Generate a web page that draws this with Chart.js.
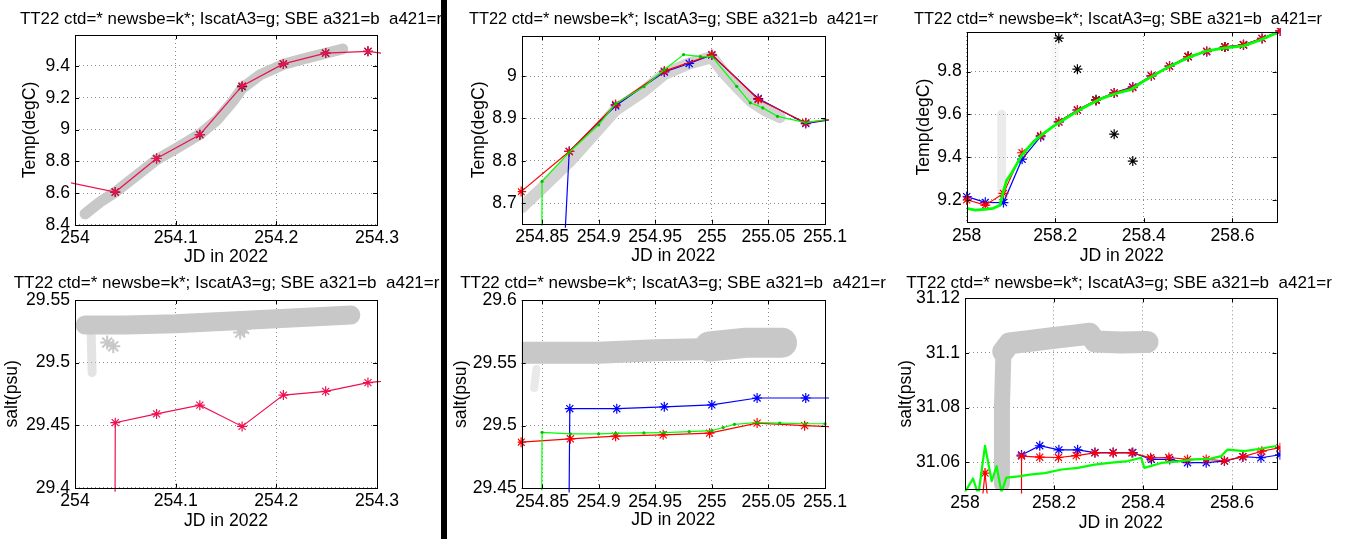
<!DOCTYPE html>
<html><head><meta charset="utf-8">
<script src="https://cdn.jsdelivr.net/npm/chart.js@4"></script>
<style>
html,body{margin:0;padding:0;background:#fff;}
body{width:1345px;height:539px;overflow:hidden;position:relative;}
.wrap{position:absolute;}
#sep{position:absolute;left:441px;top:0;width:6px;height:539px;background:#000;}
</style></head><body>
<div id="sep"></div>
<script>
// ---------- text ----------
const TITLE_TEXT = 'TT22 ctd=* newsbe=k*; IscatA3=g; SBE a321=b  a421=r';
const X_LABEL = 'JD in 2022';
const Y_LABEL_TEMP = 'Temp(degC)';
const Y_LABEL_SALT = 'salt(psu)';

// ---------- tick labels ----------
const xTicksA = [254, 254.1, 254.2, 254.3];
const xTicksB = [254.85, 254.9, 254.95, 255, 255.05, 255.1];
const xTicksC = [258, 258.2, 258.4, 258.6];
const yTicksT1 = [8.4, 8.6, 8.8, 9, 9.2, 9.4];
const yTicksT2 = [8.7, 8.8, 8.9, 9];
const yTicksT3 = [9.2, 9.4, 9.6, 9.8];
const yTicksS1 = [29.4, 29.45, 29.5, 29.55];
const yTicksS2 = [29.45, 29.5, 29.55, 29.6];
const yTicksS3 = [31.06, 31.08, 31.1, 31.12];

// ---------- Panel 1: temperature, JD 254.0-254.3 ----------
const t1CtdX = [254.010, 254.025, 254.040, 254.060, 254.081, 254.100, 254.124, 254.141, 254.157, 254.166, 254.184, 254.207, 254.230, 254.249, 254.266];
const t1CtdY = [8.470, 8.545, 8.607, 8.705, 8.810, 8.880, 8.970, 9.060, 9.180, 9.260, 9.345, 9.410, 9.450, 9.480, 9.507];
const t1RedX = [253.958, 254.040, 254.081, 254.124, 254.166, 254.207, 254.249, 254.291, 254.333];
const t1RedY = [8.715, 8.607, 8.818, 8.968, 9.275, 9.413, 9.481, 9.492, 9.455];
const t1BlkX = [254.040, 254.081, 254.124, 254.166, 254.207, 254.249, 254.291];
const t1BlkY = [8.607, 8.818, 8.968, 9.270, 9.413, 9.481, 9.492];

// ---------- Panel 2: temperature, JD 254.83-255.1 ----------
const t2CtdX = [254.832, 254.850, 254.875, 254.900, 254.915, 254.940, 254.958, 254.980, 255.000, 255.010, 255.022, 255.035, 255.048, 255.060];
const t2CtdY = [8.690, 8.735, 8.800, 8.875, 8.920, 8.965, 9.005, 9.030, 9.045, 9.010, 8.975, 8.940, 8.918, 8.903];
const t2RedX = [254.8315, 254.874, 254.915, 254.958, 255.000, 255.041, 255.083, 255.125];
const t2RedY = [8.727, 8.822, 8.933, 9.012, 9.051, 8.945, 8.890, 8.905];
const t2BlueX = [254.866, 254.874, 254.915, 254.958, 254.980, 255.000, 255.041, 255.083, 255.125];
const t2BlueY = [8.400, 8.822, 8.930, 9.010, 9.030, 9.050, 8.947, 8.888, 8.905];
const t2GrnX = [254.8495, 254.850, 254.874, 254.900, 254.915, 254.940, 254.958, 254.975, 254.990, 255.000, 255.022, 255.034, 255.045, 255.058, 255.083, 255.100];
const t2GrnY = [8.400, 8.751, 8.820, 8.885, 8.935, 8.975, 9.015, 9.051, 9.046, 9.047, 8.976, 8.937, 8.925, 8.905, 8.890, 8.897];

// ---------- Panel 3: temperature, JD 258.0-258.7 ----------
const t3CtdAX = [258.079, 258.079];
const t3CtdAY = [9.20, 9.60];
const t3CtdBX = [258.200, 258.200];
const t3CtdBY = [9.45, 9.98];
const t3RedX = [258.000, 258.042, 258.083, 258.125, 258.167, 258.208, 258.250, 258.292, 258.333, 258.375, 258.417, 258.458, 258.500, 258.542, 258.583, 258.625, 258.667, 258.708];
const t3RedY = [9.200, 9.175, 9.230, 9.420, 9.500, 9.565, 9.620, 9.665, 9.700, 9.725, 9.780, 9.825, 9.870, 9.895, 9.915, 9.925, 9.955, 9.990];
const t3BlueX = [258.000, 258.042, 258.083, 258.125, 258.167, 258.208, 258.250, 258.292, 258.333, 258.375, 258.417, 258.458, 258.500, 258.542, 258.583, 258.625, 258.667, 258.708];
const t3BlueY = [9.215, 9.188, 9.187, 9.390, 9.495, 9.565, 9.620, 9.665, 9.700, 9.728, 9.780, 9.825, 9.870, 9.893, 9.915, 9.925, 9.955, 9.990];
const t3GrnX = [258.000, 258.020, 258.045, 258.060, 258.075, 258.083, 258.090, 258.100, 258.125, 258.150, 258.167, 258.200, 258.250, 258.300, 258.333, 258.370, 258.400, 258.450, 258.500, 258.540, 258.580, 258.625, 258.660, 258.700];
const t3GrnY = [9.160, 9.152, 9.156, 9.160, 9.175, 9.240, 9.290, 9.320, 9.410, 9.470, 9.500, 9.550, 9.615, 9.670, 9.695, 9.715, 9.755, 9.815, 9.865, 9.895, 9.910, 9.920, 9.945, 9.980];
const t3BlkX = [258.208, 258.250, 258.292, 258.333, 258.375, 258.500, 258.583, 258.625];
const t3BlkY = [9.956, 9.811, 9.668, 9.507, 9.381, 9.870, 9.915, 9.925];

// ---------- Panel 4: salinity, JD 254.0-254.3 ----------
const s1CtdX = [254.010, 254.050, 254.100, 254.150, 254.200, 254.250, 254.274];
const s1CtdY = [29.530, 29.530, 29.531, 29.533, 29.535, 29.537, 29.538];
const s1TailX = [254.016, 254.017];
const s1TailY = [29.525, 29.492];
const s1ClusterX = [254.032, 254.038, 254.164, 254.168];
const s1ClusterY = [29.516, 29.513, 29.524, 29.527];
const s1RedX = [254.0395, 254.040, 254.081, 254.124, 254.166, 254.207, 254.249, 254.291, 254.333];
const s1RedY = [29.300, 29.452, 29.459, 29.466, 29.449, 29.474, 29.477, 29.484, 29.487];

// ---------- Panel 5: salinity, JD 254.83-255.1 ----------
const s2CtdX = [254.832, 254.900, 254.950, 255.000];
const s2CtdY = [29.558, 29.558, 29.560, 29.561];
const s2CtdEndX = [254.998, 255.030, 255.062];
const s2CtdEndY = [29.563, 29.566, 29.566];
const s2StubX = [254.843, 254.845];
const s2StubY = [29.530, 29.545];
const s2BlueX = [254.8735, 254.8745, 254.916, 254.958, 255.000, 255.040, 255.083, 255.125];
const s2BlueY = [29.400, 29.5135, 29.5135, 29.5150, 29.5165, 29.5220, 29.5220, 29.5220];
const s2RedX = [254.8315, 254.875, 254.915, 254.957, 254.998, 255.040, 255.082, 255.125];
const s2RedY = [29.4868, 29.4895, 29.4916, 29.4927, 29.4940, 29.5020, 29.5000, 29.4985];
const s2GrnX = [254.8495, 254.850, 254.875, 254.900, 254.915, 254.940, 254.958, 254.980, 255.000, 255.010, 255.020, 255.040, 255.060, 255.083, 255.100];
const s2GrnY = [29.400, 29.4947, 29.4935, 29.4935, 29.4938, 29.4942, 29.4945, 29.4952, 29.4960, 29.4985, 29.5010, 29.5025, 29.5020, 29.5015, 29.5015];

// ---------- Panel 6: salinity, JD 258.0-258.7 ----------
const s3CtdVX = [258.083, 258.083, 258.086];
const s3CtdVY = [31.052, 31.080, 31.098];
const s3CtdHX = [258.086, 258.100, 258.142, 258.200, 258.254, 258.280, 258.292, 258.350, 258.410];
const s3CtdHY = [31.1005, 31.1035, 31.1043, 31.1055, 31.1065, 31.1070, 31.1042, 31.1038, 31.1040];
const s3BlueX = [258.127, 258.168, 258.211, 258.253, 258.292, 258.333, 258.377, 258.419, 258.460, 258.500, 258.542, 258.583, 258.624, 258.665, 258.708];
const s3BlueY = [31.0626, 31.0660, 31.0645, 31.0645, 31.0635, 31.0635, 31.0635, 31.0610, 31.0610, 31.0598, 31.0598, 31.0604, 31.0620, 31.0616, 31.0627];
const s3RedX = [258.035, 258.045, 258.055, 258.126, 258.127, 258.168, 258.210, 258.250, 258.292, 258.333, 258.375, 258.417, 258.458, 258.500, 258.542, 258.583, 258.625, 258.667, 258.708];
const s3RedY = [31.040, 31.056, 31.040, 31.040, 31.0622, 31.0618, 31.0617, 31.0624, 31.0634, 31.0634, 31.0634, 31.0616, 31.0617, 31.0610, 31.0610, 31.0605, 31.0620, 31.0640, 31.0653];
const s3GrnX = [258.000, 258.018, 258.030, 258.045, 258.060, 258.071, 258.082, 258.093, 258.120, 258.150, 258.179, 258.217, 258.254, 258.291, 258.330, 258.366, 258.396, 258.403, 258.441, 258.480, 258.516, 258.550, 258.576, 258.590, 258.628, 258.660, 258.700];
const s3GrnY = [31.049, 31.054, 31.048, 31.066, 31.053, 31.0585, 31.049, 31.0543, 31.0548, 31.0555, 31.0560, 31.0573, 31.0579, 31.0591, 31.0598, 31.0604, 31.0616, 31.0579, 31.0597, 31.0603, 31.0610, 31.0612, 31.0622, 31.0646, 31.0640, 31.0648, 31.0659];

// ---------- helpers ----------
const FAMILY = "'Liberation Sans', Arial, Helvetica, sans-serif";
const FS = 17;
const FS_AX = 17.6;
const LH = FS * 1.2;
const LH_AX = FS_AX * 1.2;
const FONT = {family: FAMILY, size: FS, weight: 'normal', lineHeight: 1.2};
const FONT_AX = {family: FAMILY, size: FS_AX, weight: 'normal', lineHeight: 1.2};
const GRAY = '#c8c8c8';
const RED = '#ff0000';
const PINK = '#ee1050';
const BLUE = '#0000ff';
const GREEN = '#00ff00';

function pts(xs, ys) { return xs.map((x, i) => ({x: x, y: ys[i]})); }
function fmt(v) { return String(parseFloat(Number(v).toFixed(3))); }

function band(xs, ys, width, color) {
  return {data: pts(xs, ys), showLine: true, borderColor: color || GRAY, borderWidth: width,
    pointRadius: 0, borderCapStyle: 'round', borderJoinStyle: 'round', order: 10, clip: 0};
}
function starLine(xs, ys, color, order) {
  return {data: pts(xs, ys), showLine: true, borderColor: color, borderWidth: 1.2,
    pointStyle: 'star', pointRadius: 5, pointBorderColor: color, pointBackgroundColor: color,
    pointBorderWidth: 1.2, order: order, clip: 4};
}
function stars(xs, ys, color, order) {
  return {data: pts(xs, ys), showLine: false,
    pointStyle: 'star', pointRadius: 5, pointBorderColor: color, pointBackgroundColor: color,
    pointBorderWidth: 1.2, order: order, clip: 4};
}
function greenLine(xs, ys, width, dots) {
  return {data: pts(xs, ys), showLine: true, borderColor: GREEN, borderWidth: width,
    pointRadius: dots ? 1.6 : 0, pointStyle: 'circle', pointBorderWidth: 0,
    pointBackgroundColor: '#00c000', order: 1, clip: 2, borderJoinStyle: 'round'};
}

const boxPlugin = {
  id: 'mbox',
  afterDatasetsDraw(chart) {
    const {ctx, chartArea: a, scales} = chart;
    ctx.save();
    ctx.strokeStyle = '#000';
    ctx.lineWidth = 1;
    ctx.strokeRect(Math.round(a.left) + 0.5, Math.round(a.top) + 0.5,
      Math.round(a.right - a.left), Math.round(a.bottom - a.top));
    const L = 4;
    ctx.beginPath();
    scales.x.ticks.forEach(t => {
      const p = Math.round(scales.x.getPixelForValue(t.value)) + 0.5;
      ctx.moveTo(p, a.bottom); ctx.lineTo(p, a.bottom - L);
      ctx.moveTo(p, a.top); ctx.lineTo(p, a.top + L);
    });
    scales.y.ticks.forEach(t => {
      const p = Math.round(scales.y.getPixelForValue(t.value)) + 0.5;
      ctx.moveTo(a.left, p); ctx.lineTo(a.left + L, p);
      ctx.moveTo(a.right, p); ctx.lineTo(a.right - L, p);
    });
    ctx.stroke();
    ctx.restore();
  }
};

function makePanel(g, xr, yr, xt, yt, ylab, datasets) {
  const CL = Math.round(g.YLC - LH_AX / 2);
  const CW = Math.round(2 * (g.TC - CL));
  const WR = CL + CW - g.PR;
  const padTop = g.TY - LH / 2 - g.CT;
  const padBot = g.PT - g.CT - padTop - LH;
  const HX = g.XLC - g.PB + LH_AX / 2;
  const CH = Math.round(g.PB + HX - g.CT);
  const wrap = document.createElement('div');
  wrap.className = 'wrap';
  wrap.style.left = CL + 'px'; wrap.style.top = g.CT + 'px';
  wrap.style.width = CW + 'px'; wrap.style.height = CH + 'px';
  const cv = document.createElement('canvas');
  wrap.appendChild(cv);
  document.body.appendChild(wrap);
  const gridCommon = {color: '#8c8c8c', lineWidth: 1, drawTicks: false};
  new Chart(cv, {
    type: 'scatter',
    data: {datasets: datasets},
    plugins: [boxPlugin],
    options: {
      responsive: true, maintainAspectRatio: false, animation: false, events: [],
      layout: {padding: 0},
      plugins: {
        legend: {display: false}, tooltip: {enabled: false},
        title: {display: true, text: TITLE_TEXT, color: '#000', font: FONT,
          padding: {top: padTop, bottom: padBot}}
      },
      scales: {
        x: {type: 'linear', position: 'bottom', min: xr[0], max: xr[1],
          afterBuildTicks: s => { s.ticks = xt.map(v => ({value: v})); },
          afterFit: s => { s.height = HX; },
          ticks: {autoSkip: false, maxRotation: 0, minRotation: 0, padding: 3, color: '#000', font: FONT_AX, callback: v => fmt(v)},
          grid: gridCommon,
          border: {display: false, dash: [1, 3]},
          title: {display: true, text: X_LABEL, color: '#000', font: FONT_AX, padding: 0}
        },
        y: {type: 'linear', position: 'left', min: yr[0], max: yr[1],
          afterBuildTicks: s => { s.ticks = yt.map(v => ({value: v})); },
          afterFit: s => { s.width = g.PL - CL; },
          ticks: {autoSkip: false, padding: 5, color: '#000', font: FONT_AX, callback: v => fmt(v)},
          grid: gridCommon,
          border: {display: false, dash: [1, 3]},
          title: {display: true, text: ylab, color: '#000', font: FONT_AX, padding: 0}
        },
        yR: {type: 'linear', position: 'right', display: true,
          ticks: {display: false}, grid: {display: false}, border: {display: false},
          afterFit: s => { s.width = WR; }
        }
      }
    }
  });
}

// ---------- panels ----------
makePanel({CT: 0, TY: 19.5, PT: 35, PB: 224.5, PL: 75, PR: 377, TC: 231, YLC: 31, XLC: 257},
  [254, 254.3], [8.4, 9.595], xTicksA, yTicksT1, Y_LABEL_TEMP, [
    band(t1CtdX, t1CtdY, 11),
    starLine(t1RedX, t1RedY, PINK, 2),
    stars(t1BlkX, t1BlkY, '#000', 2.5)
  ]);

makePanel({CT: 0, TY: 19.5, PT: 36, PB: 224, PL: 521.7, PR: 825, TC: 673.3, YLC: 480, XLC: 256.7},
  [254.832, 255.1], [8.651, 9.095], xTicksB, yTicksT2, Y_LABEL_TEMP, [
    band(t2CtdX, t2CtdY, 12, '#d2d2d2'),
    greenLine(t2GrnX, t2GrnY, 1.2, true),
    starLine(t2RedX, t2RedY, RED, 2),
    starLine(t2BlueX, t2BlueY, BLUE, 3)
  ]);

makePanel({CT: 0, TY: 19.5, PT: 32, PB: 222.5, PL: 966.7, PR: 1276.7, TC: 1118, YLC: 925, XLC: 256.7},
  [258, 258.7], [9.095, 9.985], xTicksC, yTicksT3, Y_LABEL_TEMP, [
    band(t3CtdAX, t3CtdAY, 9, 'rgba(190,190,190,0.3)'),
    band(t3CtdBX, t3CtdBY, 8, 'rgba(215,215,215,0.18)'),
    greenLine(t3GrnX, t3GrnY, 2.8, false),
    starLine(t3RedX, t3RedY, RED, 2),
    starLine(t3BlueX, t3BlueY, BLUE, 3),
    stars(t3BlkX, t3BlkY, '#000', 2.5)
  ]);

makePanel({CT: 266, TY: 283, PT: 300, PB: 488, PL: 75, PR: 377, TC: 226.5, YLC: 12.5, XLC: 521.7},
  [254, 254.3], [29.4, 29.55], xTicksA, yTicksS1, Y_LABEL_SALT, [
    band(s1CtdX, s1CtdY, 19),
    band(s1TailX, s1TailY, 9, 'rgba(200,200,200,0.5)'),
    {data: pts(s1ClusterX, s1ClusterY), showLine: false, pointStyle: 'star', pointRadius: 7,
      pointBorderColor: '#c8c8c8', pointBorderWidth: 2, order: 9, clip: 0},
    starLine(s1RedX, s1RedY, PINK, 2)
  ]);

makePanel({CT: 266, TY: 283, PT: 300, PB: 488, PL: 521.7, PR: 825, TC: 673, YLC: 462, XLC: 520},
  [254.832, 255.1], [29.45, 29.6], xTicksB, yTicksS2, Y_LABEL_SALT, [
    band(s2CtdX, s2CtdY, 22),
    band(s2CtdEndX, s2CtdEndY, 30),
    band(s2StubX, s2StubY, 8, 'rgba(200,200,200,0.4)'),
    greenLine(s2GrnX, s2GrnY, 1.2, true),
    starLine(s2RedX, s2RedY, RED, 2),
    starLine(s2BlueX, s2BlueY, BLUE, 3)
  ]);

makePanel({CT: 266, TY: 283, PT: 298.3, PB: 489, PL: 965, PR: 1276.5, TC: 1119, YLC: 907, XLC: 523},
  [258, 258.7], [31.05, 31.12], xTicksC, yTicksS3, Y_LABEL_SALT, [
    band(s3CtdVX, s3CtdVY, 16),
    band(s3CtdHX, s3CtdHY, 22),
    greenLine(s3GrnX, s3GrnY, 2.2, false),
    starLine(s3RedX, s3RedY, RED, 2),
    starLine(s3BlueX, s3BlueY, BLUE, 3)
  ]);
</script>
</body></html>
